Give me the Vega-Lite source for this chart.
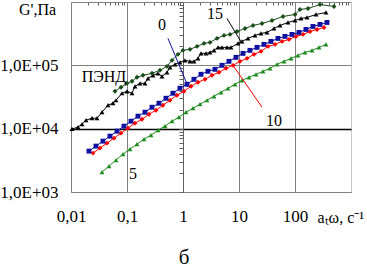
{
  "$schema": "https://vega.github.io/schema/vega-lite/v6.json",
  "width": 280,
  "height": 190,
  "autosize": "none",
  "padding": {"left": 71, "top": 2, "right": 16, "bottom": 81},
  "background": "white",
  "config": {
    "view": {"stroke": null},
    "font": "Liberation Serif",
    "axis": {"labelFont": "Liberation Serif", "titleFont": "Liberation Serif", "labelColor": "black", "titleColor": "black", "labelFontSize": 17, "titleFontSize": 16, "titleFontWeight": "normal"}
  },
  "title": {"text": "б", "orient": "bottom", "anchor": "middle", "dx": -27, "offset": 22, "fontSize": 21, "font": "Liberation Serif", "fontWeight": "normal", "color": "black"},
  "datasets": {
    "pts": [
      {"s": "5", "x": 0.03578, "y": 2065}, {"s": "5", "x": 0.04771, "y": 2567}, {"s": "5", "x": 0.06363, "y": 3190}, {"s": "5", "x": 0.08485, "y": 3967}, {"s": "5", "x": 0.1131, "y": 4755}, {"s": "5", "x": 0.1509, "y": 5700}, {"s": "5", "x": 0.2012, "y": 6834}, {"s": "5", "x": 0.2683, "y": 7900}, {"s": "5", "x": 0.3578, "y": 9470}, {"s": "5", "x": 0.4771, "y": 10950}, {"s": "5", "x": 0.6363, "y": 13130}, {"s": "5", "x": 0.8485, "y": 15180}, {"s": "5", "x": 1.131, "y": 18190}, {"s": "5", "x": 1.509, "y": 21030}, {"s": "5", "x": 2.012, "y": 24310}, {"s": "5", "x": 2.683, "y": 28100}, {"s": "5", "x": 3.578, "y": 32490}, {"s": "5", "x": 4.771, "y": 37560}, {"s": "5", "x": 6.363, "y": 43430}, {"s": "5", "x": 8.485, "y": 50210}, {"s": "5", "x": 11.31, "y": 58050}, {"s": "5", "x": 15.09, "y": 64720}, {"s": "5", "x": 20.12, "y": 72160}, {"s": "5", "x": 26.83, "y": 80440}, {"s": "5", "x": 35.78, "y": 89700}, {"s": "5", "x": 47.71, "y": 103700}, {"s": "5", "x": 63.63, "y": 115600}, {"s": "5", "x": 84.85, "y": 128900}, {"s": "5", "x": 113.1, "y": 143700}, {"s": "5", "x": 150.9, "y": 160200}, {"s": "5", "x": 201.2, "y": 172300}, {"s": "5", "x": 268.3, "y": 192100}, {"s": "5", "x": 357.8, "y": 214200},
      {"s": "10", "x": 0.02471, "y": 4114}, {"s": "10", "x": 0.03295, "y": 4932}, {"s": "10", "x": 0.04394, "y": 5911}, {"s": "10", "x": 0.0586, "y": 7087}, {"s": "10", "x": 0.07814, "y": 8496}, {"s": "10", "x": 0.1042, "y": 10180}, {"s": "10", "x": 0.139, "y": 12210}, {"s": "10", "x": 0.1853, "y": 14110}, {"s": "10", "x": 0.2471, "y": 16920}, {"s": "10", "x": 0.3295, "y": 19560}, {"s": "10", "x": 0.4394, "y": 23450}, {"s": "10", "x": 0.586, "y": 28100}, {"s": "10", "x": 0.7814, "y": 33700}, {"s": "10", "x": 1.042, "y": 38950}, {"s": "10", "x": 1.39, "y": 46700}, {"s": "10", "x": 1.853, "y": 53990}, {"s": "10", "x": 2.471, "y": 60180}, {"s": "10", "x": 3.295, "y": 69590}, {"s": "10", "x": 4.394, "y": 77580}, {"s": "10", "x": 5.86, "y": 89700}, {"s": "10", "x": 7.814, "y": 100000}, {"s": "10", "x": 10.42, "y": 115600}, {"s": "10", "x": 13.9, "y": 128900}, {"s": "10", "x": 18.53, "y": 149000}, {"s": "10", "x": 24.71, "y": 166200}, {"s": "10", "x": 32.95, "y": 199200}, {"s": "10", "x": 43.94, "y": 214200}, {"s": "10", "x": 58.6, "y": 238800}, {"s": "10", "x": 78.14, "y": 256700}, {"s": "10", "x": 104.2, "y": 286200}, {"s": "10", "x": 139, "y": 307700}, {"s": "10", "x": 185.3, "y": 343000}, {"s": "10", "x": 247.1, "y": 368800}, {"s": "10", "x": 329.5, "y": 396700},
      {"s": "0", "x": 0.02094, "y": 4424}, {"s": "0", "x": 0.02793, "y": 5302}, {"s": "0", "x": 0.03724, "y": 6356}, {"s": "0", "x": 0.04966, "y": 7619}, {"s": "0", "x": 0.06622, "y": 9134}, {"s": "0", "x": 0.08831, "y": 10950}, {"s": "0", "x": 0.1178, "y": 13130}, {"s": "0", "x": 0.157, "y": 15740}, {"s": "0", "x": 0.2094, "y": 18190}, {"s": "0", "x": 0.2793, "y": 21800}, {"s": "0", "x": 0.3724, "y": 25200}, {"s": "0", "x": 0.4966, "y": 30220}, {"s": "0", "x": 0.6622, "y": 36240}, {"s": "0", "x": 0.8831, "y": 43430}, {"s": "0", "x": 1.178, "y": 50210}, {"s": "0", "x": 1.57, "y": 60180}, {"s": "0", "x": 2.094, "y": 72160}, {"s": "0", "x": 2.793, "y": 80440}, {"s": "0", "x": 3.724, "y": 86500}, {"s": "0", "x": 4.966, "y": 100000}, {"s": "0", "x": 6.622, "y": 115600}, {"s": "0", "x": 8.831, "y": 133700}, {"s": "0", "x": 11.78, "y": 154500}, {"s": "0", "x": 15.7, "y": 172300}, {"s": "0", "x": 20.94, "y": 192100}, {"s": "0", "x": 27.93, "y": 214200}, {"s": "0", "x": 37.24, "y": 238800}, {"s": "0", "x": 49.66, "y": 266200}, {"s": "0", "x": 66.22, "y": 286200}, {"s": "0", "x": 88.31, "y": 307700}, {"s": "0", "x": 117.8, "y": 330900}, {"s": "0", "x": 157, "y": 368800}, {"s": "0", "x": 209.4, "y": 411400}, {"s": "0", "x": 279.3, "y": 442300}, {"s": "0", "x": 372.4, "y": 475500},
      {"s": "ПЭНД", "x": 0.0104, "y": 9900}, {"s": "ПЭНД", "x": 0.01334, "y": 10560}, {"s": "ПЭНД", "x": 0.01572, "y": 11780}, {"s": "ПЭНД", "x": 0.01853, "y": 13610}, {"s": "ПЭНД", "x": 0.02371, "y": 14640}, {"s": "ПЭНД", "x": 0.02912, "y": 14640}, {"s": "ПЭНД", "x": 0.03578, "y": 18190}, {"s": "ПЭНД", "x": 0.04579, "y": 23450}, {"s": "ПЭНД", "x": 0.05623, "y": 25200}, {"s": "ПЭНД", "x": 0.06363, "y": 28100}, {"s": "ПЭНД", "x": 0.0814, "y": 36240}, {"s": "ПЭНД", "x": 0.1, "y": 38950}, {"s": "ПЭНД", "x": 0.1228, "y": 36240}, {"s": "ПЭНД", "x": 0.139, "y": 46700}, {"s": "ПЭНД", "x": 0.1707, "y": 52060}, {"s": "ПЭНД", "x": 0.2096, "y": 52060}, {"s": "ПЭНД", "x": 0.2371, "y": 62420}, {"s": "ПЭНД", "x": 0.2912, "y": 69590}, {"s": "ПЭНД", "x": 0.3578, "y": 74820}, {"s": "ПЭНД", "x": 0.4217, "y": 67110}, {"s": "ПЭНД", "x": 0.5179, "y": 77580}, {"s": "ПЭНД", "x": 0.586, "y": 93010}, {"s": "ПЭНД", "x": 0.7197, "y": 103700}, {"s": "ПЭНД", "x": 0.884, "y": 111500}, {"s": "ПЭНД", "x": 1.086, "y": 119900}, {"s": "ПЭНД", "x": 1.334, "y": 115600}, {"s": "ПЭНД", "x": 1.572, "y": 115600}, {"s": "ПЭНД", "x": 1.853, "y": 128900}, {"s": "ПЭНД", "x": 2.096, "y": 154500}, {"s": "ПЭНД", "x": 2.575, "y": 154500}, {"s": "ПЭНД", "x": 3.035, "y": 160200}, {"s": "ПЭНД", "x": 3.578, "y": 172300}, {"s": "ПЭНД", "x": 4.217, "y": 192100}, {"s": "ПЭНД", "x": 4.971, "y": 192100}, {"s": "ПЭНД", "x": 6.105, "y": 192100}, {"s": "ПЭНД", "x": 7.197, "y": 192100}, {"s": "ПЭНД", "x": 9.597, "y": 222100}, {"s": "ПЭНД", "x": 11.31, "y": 238800}, {"s": "ПЭНД", "x": 14.48, "y": 266200}, {"s": "ПЭНД", "x": 19.31, "y": 296800}, {"s": "ПЭНД", "x": 24.71, "y": 319000}, {"s": "ПЭНД", "x": 31.62, "y": 330900}, {"s": "ПЭНД", "x": 42.17, "y": 382500}, {"s": "ПЭНД", "x": 53.96, "y": 426500}, {"s": "ПЭНД", "x": 74.99, "y": 475500}, {"s": "ПЭНД", "x": 100, "y": 511200}, {"s": "ПЭНД", "x": 128, "y": 549800}, {"s": "ПЭНД", "x": 163.8, "y": 570000}, {"s": "ПЭНД", "x": 237.1, "y": 635500}, {"s": "ПЭНД", "x": 357.8, "y": 683300},
      {"s": "15", "x": 0.06105, "y": 38950}, {"s": "15", "x": 0.07814, "y": 45030}, {"s": "15", "x": 0.1, "y": 52060}, {"s": "15", "x": 0.1228, "y": 55980}, {"s": "15", "x": 0.1509, "y": 64720}, {"s": "15", "x": 0.1931, "y": 69590}, {"s": "15", "x": 0.2796, "y": 74820}, {"s": "15", "x": 0.3884, "y": 83420}, {"s": "15", "x": 0.5179, "y": 96440}, {"s": "15", "x": 0.6363, "y": 119900}, {"s": "15", "x": 0.814, "y": 149000}, {"s": "15", "x": 1.0, "y": 172300}, {"s": "15", "x": 1.334, "y": 178700}, {"s": "15", "x": 1.778, "y": 199200}, {"s": "15", "x": 2.371, "y": 222100}, {"s": "15", "x": 3.035, "y": 230200}, {"s": "15", "x": 4.048, "y": 266200}, {"s": "15", "x": 5.396, "y": 296800}, {"s": "15", "x": 6.908, "y": 307700}, {"s": "15", "x": 9.211, "y": 343000}, {"s": "15", "x": 12.8, "y": 382500}, {"s": "15", "x": 17.78, "y": 426500}, {"s": "15", "x": 25.75, "y": 458500}, {"s": "15", "x": 38.84, "y": 511200}, {"s": "15", "x": 61.05, "y": 591000}, {"s": "15", "x": 100, "y": 635500}, {"s": "15", "x": 122.8, "y": 761800}, {"s": "15", "x": 170.7, "y": 790000}, {"s": "15", "x": 279.6, "y": 913000}, {"s": "15", "x": 497.1, "y": 849500}
    ],
    "lead": [
      {"id": "0", "x": 0.5396, "y": 266200}, {"id": "0", "x": 1.228, "y": 46700},
      {"id": "15", "x": 6.105, "y": 549800}, {"id": "15", "x": 11.31, "y": 222100},
      {"id": "10", "x": 7.814, "y": 100000}, {"id": "10", "x": 25.75, "y": 21800}
    ],
    "lab": [
      {"t": "0", "x": 0.4217, "y": 426500},
      {"t": "15", "x": 3.728, "y": 635500},
      {"t": "10", "x": 42.17, "y": 13130},
      {"t": "5", "x": 0.128, "y": 1921},
      {"t": "ПЭНД", "x": 0.03884, "y": 64720}
    ]
  },
  "layer": [
    {
      "data": {"name": "pts"},
      "mark": {"type": "line", "strokeWidth": 1},
      "encoding": {
        "x": {"field": "x", "type": "quantitative", "scale": {"type": "log", "domain": [0.01, 1000], "nice": false},
          "axis": {"values": [0.01, 0.1, 1, 10, 100, 1000], "labelExpr": "datum.value == 0.01 ? '0,01' : datum.value == 0.1 ? '0,1' : datum.value == 1000 ? '' : format(datum.value, 'd')", "labelFlush": false, "labelOverlap": false, "ticks": false, "labelPadding": 16, "domain": true, "domainColor": "#808080", "grid": true,
            "gridColor": {"condition": {"test": "datum.value == 1000", "value": "#c8c8c8"}, "value": "#808080"}, "gridWidth": 1,
            "title": "aₜω, с⁻¹", "titleX": 246, "titleY": 30, "titleAlign": "left", "titleBaseline": "alphabetic"}},
        "y": {"field": "y", "type": "quantitative", "scale": {"type": "log", "domain": [1000, 1000000], "nice": false},
          "axis": {"values": [1000, 10000, 100000], "labelExpr": "datum.value == 1000 ? '1,0E+03' : datum.value == 10000 ? '1,0E+04' : '1,0E+05'", "labelFlush": false, "labelOverlap": false, "ticks": false, "labelPadding": 13, "domain": true, "domainColor": "#808080", "grid": true,
            "gridColor": {"condition": {"test": "datum.value == 10000", "value": "#000000"}, "value": "#808080"},
            "gridWidth": {"condition": {"test": "datum.value == 10000", "value": 1.5}, "value": 1},
            "title": "G',Па", "titleAngle": 0, "titleX": -34, "titleY": 12, "titleAlign": "center", "titleBaseline": "alphabetic"}},
        "color": {"field": "s", "type": "nominal", "scale": {"domain": ["0", "10", "5", "ПЭНД", "15"], "range": ["#1010a0", "#ff0000", "#1e8c1e", "#000000", "#1a4d1a"]}, "legend": null},
        "detail": {"field": "s"}
      }
    },
    {
      "data": {"name": "pts"},
      "mark": {"type": "point", "filled": true, "opacity": 1, "size": 24},
      "encoding": {
        "x": {"field": "x", "type": "quantitative", "scale": {"type": "log", "domain": [0.01, 1000], "nice": false}, "axis": null},
        "y": {"field": "y", "type": "quantitative", "scale": {"type": "log", "domain": [1000, 1000000], "nice": false}, "axis": null},
        "color": {"field": "s", "type": "nominal", "scale": {"domain": ["0", "10", "5", "ПЭНД", "15"], "range": ["#1010a0", "#ff0000", "#1e8c1e", "#000000", "#1a4d1a"]}, "legend": null},
        "shape": {"field": "s", "type": "nominal", "scale": {"domain": ["0", "10", "5", "ПЭНД", "15"], "range": ["square", "diamond", "triangle-up", "triangle-up", "diamond"]}, "legend": null}
      }
    },
    {
      "data": {"name": "lead"},
      "mark": {"type": "line", "strokeWidth": 1},
      "encoding": {
        "x": {"field": "x", "type": "quantitative", "scale": {"type": "log", "domain": [0.01, 1000], "nice": false},
          "axis": {"values": [0.02, 0.03, 0.04, 0.05, 0.06, 0.07, 0.08, 0.09, 0.2, 0.3, 0.4, 0.5, 0.6, 0.7, 0.8, 0.9, 2, 3, 4, 5, 6, 7, 8, 9, 20, 30, 40, 50, 60, 70, 80, 90, 200, 300, 400, 500, 600, 700, 800, 900], "labels": false, "ticks": true, "tickSize": -3, "tickColor": "#606060", "domain": true, "domainColor": "#808080", "grid": false, "title": null}},
        "y": {"field": "y", "type": "quantitative", "scale": {"type": "log", "domain": [1000, 1000000], "nice": false},
          "axis": {"orient": "left", "offset": -112, "values": [1000, 2000, 3000, 4000, 5000, 6000, 7000, 8000, 9000, 10000, 20000, 30000, 40000, 50000, 60000, 70000, 80000, 90000, 100000, 200000, 300000, 400000, 500000, 600000, 700000, 800000, 900000, 1000000], "labels": false, "ticks": true, "tickSize": 4, "tickColor": "#606060", "domain": true, "domainColor": "#606060", "grid": false, "title": null}},
        "stroke": {"field": "id", "type": "nominal", "scale": {"domain": ["0", "15", "10"], "range": ["#1010a0", "#000000", "#ff0000"]}, "legend": null},
        "detail": {"field": "id"}
      }
    },
    {
      "data": {"name": "lab"},
      "mark": {"type": "text", "font": "Liberation Serif", "fontSize": 16, "align": "center", "baseline": "middle", "color": "black"},
      "encoding": {
        "x": {"field": "x", "type": "quantitative", "scale": {"type": "log", "domain": [0.01, 1000], "nice": false}, "axis": null},
        "y": {"field": "y", "type": "quantitative", "scale": {"type": "log", "domain": [1000, 1000000], "nice": false}, "axis": null},
        "text": {"field": "t"}
      }
    }
  ],
  "resolve": {"axis": {"x": "independent", "y": "independent"}}
}
